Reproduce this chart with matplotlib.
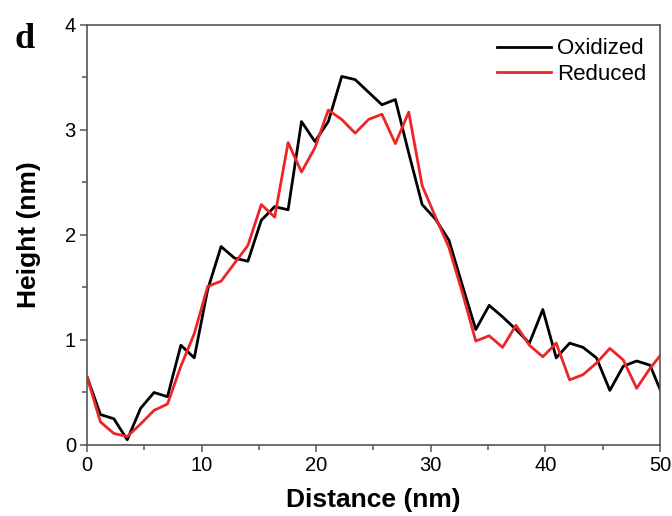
import numpy as np
import matplotlib
matplotlib.use("Agg")
import matplotlib.pyplot as plt
from matplotlib.ticker import MultipleLocator

distance = [0.00, 1.17, 2.34, 3.51, 4.68, 5.85, 7.02, 8.19, 9.36, 10.53,
            11.70, 12.87, 14.04, 15.21, 16.38, 17.55, 18.72, 19.89, 21.06, 22.23,
            23.40, 24.57, 25.74, 26.91, 28.08, 29.25, 30.42, 31.59, 32.76, 33.93,
            35.10, 36.27, 37.44, 38.61, 39.78, 40.95, 42.12, 43.29, 44.46, 45.63,
            46.80, 47.97, 49.14, 50.31]

oxidized = [0.65, 0.29, 0.25, 0.05, 0.35, 0.50, 0.46, 0.95, 0.83, 1.48,
            1.89, 1.78, 1.75, 2.14, 2.27, 2.24, 3.08, 2.89, 3.08, 3.51,
            3.48, 3.36, 3.24, 3.29, 2.78, 2.29, 2.15, 1.95, 1.52, 1.10,
            1.33, 1.22, 1.10, 0.97, 1.29, 0.83, 0.97, 0.93, 0.83, 0.52,
            0.75, 0.80, 0.76, 0.45]

reduced = [0.65, 0.22, 0.11, 0.08, 0.20, 0.33, 0.39, 0.75, 1.06, 1.51,
           1.56, 1.73, 1.90, 2.29, 2.17, 2.88, 2.60, 2.83, 3.19, 3.10,
           2.97, 3.10, 3.15, 2.87, 3.17, 2.47, 2.17, 1.88, 1.45, 0.99,
           1.04, 0.93, 1.14, 0.95, 0.84, 0.97, 0.62, 0.67, 0.78, 0.92,
           0.81, 0.54, 0.73, 0.89]

plt.rcParams["font.family"] = ["Liberation Sans", "DejaVu Sans"]

fig = plt.figure(figsize=(6.72, 5.16), dpi=100)
ax = fig.add_axes([0.1295, 0.1376, 0.8525, 0.814])

ax.plot(distance, oxidized, color="black", lw=2.0, label="Oxidized")
ax.plot(distance, reduced, color="#ec2527", lw=2.0, label="Reduced")

ax.set_xlim(0, 50)
ax.set_ylim(0, 4)
ax.xaxis.set_major_locator(MultipleLocator(10))
ax.xaxis.set_minor_locator(MultipleLocator(5))
ax.yaxis.set_major_locator(MultipleLocator(1))
ax.yaxis.set_minor_locator(MultipleLocator(0.5))

for s in ax.spines.values():
    s.set_color("#555555")
    s.set_linewidth(1.2)

ax.tick_params(which="major", direction="out", length=5, width=1.1,
               color="#555555", labelsize=14.5, pad=3)
ax.tick_params(which="minor", direction="out", length=3.5, width=1.1,
               color="#555555")

ax.set_xlabel("Distance (nm)", fontsize=19, fontweight="bold", labelpad=9)
ax.set_ylabel("Height (nm)", fontsize=19, fontweight="bold", labelpad=17)

ax.legend(loc="upper right", frameon=False, fontsize=16, handlelength=2.4,
          handletextpad=0.3, borderaxespad=0.2, labelspacing=0.2)

fig.text(0.022, 0.955, "d", fontsize=26, fontweight="bold",
         family=["Liberation Serif", "DejaVu Serif"], va="top")

fig.savefig("out.png", dpi=100)
